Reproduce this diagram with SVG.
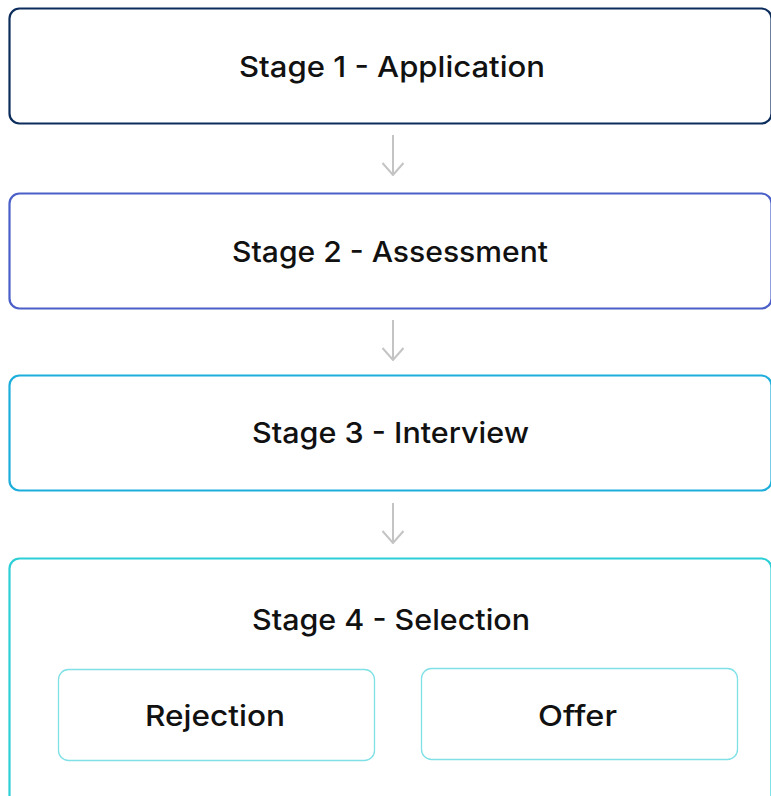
<svg xmlns="http://www.w3.org/2000/svg" width="771" height="796" viewBox="0 0 771 796">
  <style>
    .stage { fill: #ffffff; stroke-width: 2.2; }
    .sub { fill: #ffffff; stroke: #7fe0e6; stroke-width: 1.3; }
    .label { font-family: Inter, "Open Sans", "Liberation Sans", sans-serif; font-size: 29px; font-weight: 500; fill: #111111; text-anchor: middle; }
    .conn { stroke: #c4c4c4; stroke-width: 2; fill: none; }
  </style>
  <defs>
    <!-- open chevron arrowhead, drawn pointing along +x so orient="auto" turns it down the line -->
    <marker id="arrow" viewBox="0 0 14 24" refX="13" refY="12" markerWidth="14" markerHeight="24" markerUnits="userSpaceOnUse" orient="auto">
      <path d="M1 1.5 L13 12 L1 22.5" fill="none" stroke="#c4c4c4" stroke-width="2"/>
    </marker>
  </defs>
  <rect width="771" height="796" fill="#ffffff"/>

  <g id="stage1">
    <rect class="stage" x="9.5" y="8.5" width="762" height="115" rx="10" stroke="#0c2d5c"/>
    <text class="label" x="392" y="77" textLength="306" lengthAdjust="spacingAndGlyphs">Stage 1 - Application</text>
  </g>

  <g id="stage2">
    <rect class="stage" x="9.5" y="193.5" width="762" height="115" rx="10" stroke="#4a5fc8"/>
    <text class="label" x="390" y="262" textLength="316" lengthAdjust="spacingAndGlyphs">Stage 2 - Assessment</text>
  </g>

  <g id="stage3">
    <rect class="stage" x="9.5" y="375.5" width="762" height="115" rx="10" stroke="#1eaedc"/>
    <text class="label" x="390.5" y="443" textLength="277" lengthAdjust="spacingAndGlyphs">Stage 3 - Interview</text>
  </g>

  <g id="stage4">
    <rect class="stage" x="9.5" y="558.5" width="762" height="260" rx="10" stroke="#2dcfd7"/>
    <text class="label" x="391" y="630" textLength="278" lengthAdjust="spacingAndGlyphs">Stage 4 - Selection</text>
  </g>

  <g id="rejection">
    <rect class="sub" x="58.5" y="669.5" width="316" height="91" rx="10"/>
    <text class="label" x="215" y="726" textLength="140" lengthAdjust="spacingAndGlyphs">Rejection</text>
  </g>

  <g id="offer">
    <rect class="sub" x="421.5" y="668.5" width="316" height="91" rx="10"/>
    <text class="label" x="577.5" y="726" textLength="79" lengthAdjust="spacingAndGlyphs">Offer</text>
  </g>

  <g id="connectors">
    <line class="conn" x1="393" y1="135" x2="393" y2="175" marker-end="url(#arrow)"/>
    <line class="conn" x1="393" y1="320" x2="393" y2="360" marker-end="url(#arrow)"/>
    <line class="conn" x1="393" y1="503" x2="393" y2="543" marker-end="url(#arrow)"/>
  </g>
</svg>
